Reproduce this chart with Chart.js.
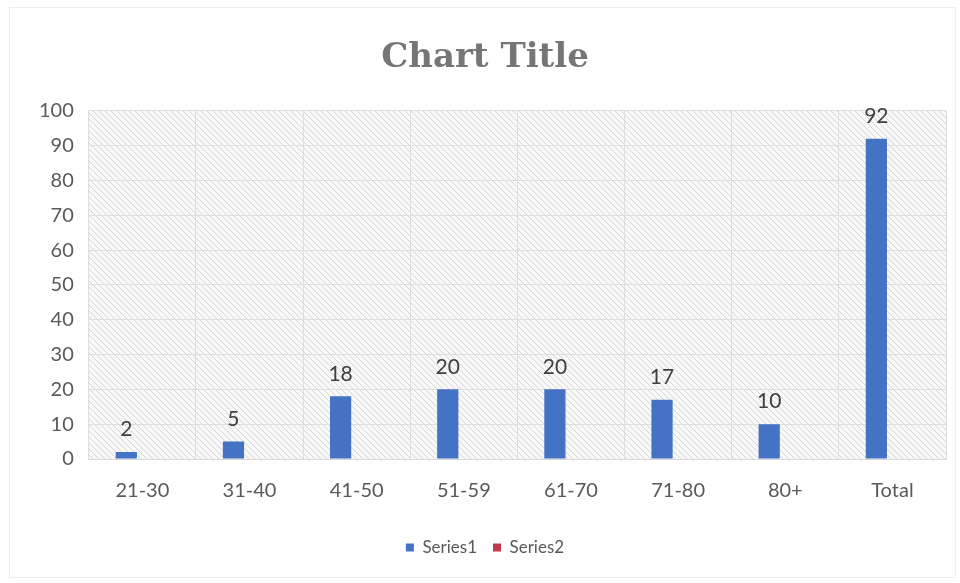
<!DOCTYPE html>
<html lang="en">
<head>
  <meta charset="UTF-8" />
  <title>Chart Title</title>
  <script src="https://cdn.jsdelivr.net/npm/chart.js"></script>
  <style>
    body { margin: 0; background: #fff; }
    .wrap { width: 960px; height: 583px; position: relative; }
  </style>
</head>
<body>
  <div class="wrap">
    <canvas id="chart" width="960" height="583"></canvas>
  </div>

  <script>
    const categories = ['21-30', '31-40', '41-50', '51-59', '61-70', '71-80', '80+', 'Total'];
    const series1 = [2, 5, 18, 20, 20, 17, 10, 92];
    const series2 = [0, 0, 0, 0, 0, 0, 0, 0];
    const yTicks = [0, 10, 20, 30, 40, 50, 60, 70, 80, 90, 100];

    // diagonal hatch used as the plot area fill
    function makeHatch() {
      const c = document.createElement('canvas');
      c.width = 6; c.height = 6;
      const g = c.getContext('2d');
      g.fillStyle = '#f8f8f8';
      g.fillRect(0, 0, 6, 6);
      g.strokeStyle = '#d6d6d6';
      g.lineWidth = 1;
      g.beginPath();
      g.moveTo(0, 0); g.lineTo(6, 6);
      g.moveTo(-3, 3); g.lineTo(3, 9);
      g.moveTo(3, -3); g.lineTo(9, 3);
      g.stroke();
      return g.createPattern(c, 'repeat');
    }

    const plotBg = {
      id: 'plotBg',
      beforeDraw(chart) {
        const { ctx, chartArea: a } = chart;
        ctx.save();
        ctx.strokeStyle = '#eeeeee';
        ctx.strokeRect(9.5, 7.5, 946, 570);
        ctx.fillStyle = makeHatch();
        ctx.fillRect(a.left, a.top, a.right - a.left, a.bottom - a.top);
        ctx.restore();
      }
    };

    const valueLabels = {
      id: 'valueLabels',
      afterDatasetsDraw(chart) {
        const { ctx } = chart;
        const meta = chart.getDatasetMeta(0);
        ctx.save();
        ctx.fillStyle = '#404040';
        ctx.font = '21px Lato, "Open Sans", sans-serif';
        ctx.textAlign = 'center';
        ctx.textBaseline = 'bottom';
        meta.data.forEach((bar, i) => {
          ctx.fillText(series1[i], bar.x, bar.y - 12);
        });
        ctx.restore();
      }
    };

    new Chart(document.getElementById('chart'), {
      type: 'bar',
      data: {
        labels: categories,
        datasets: [
          { label: 'Series1', data: series1, backgroundColor: '#4472c4',
            categoryPercentage: 0.6, barPercentage: 0.66 },
          { label: 'Series2', data: series2, backgroundColor: '#c0394b',
            categoryPercentage: 0.6, barPercentage: 0.66 }
        ]
      },
      options: {
        responsive: false,
        animation: false,
        layout: { padding: { left: 24, right: 14, top: 6, bottom: 17 } },
        plugins: {
          title: {
            display: true,
            text: 'Chart Title',
            color: '#767676',
            font: { family: '"DejaVu Serif", "Liberation Serif", serif', size: 34, weight: 'bold' },
            padding: { top: 32, bottom: 32 }
          },
          legend: {
            position: 'bottom',
            labels: {
              color: '#595959',
              font: { family: 'Lato, "Open Sans", sans-serif', size: 17 },
              boxWidth: 8, boxHeight: 8,
              padding: 16
            }
          },
          tooltip: { enabled: false }
        },
        scales: {
          x: {
            grid: { color: '#dedede', offset: true, drawTicks: false },
            border: { color: '#d9d9d9' },
            ticks: { color: '#595959', padding: 20,
              font: { family: 'Lato, "Open Sans", sans-serif', size: 20 } }
          },
          y: {
            min: 0, max: 100,
            afterBuildTicks(axis) { axis.ticks = yTicks.map(v => ({ value: v })); },
            grid: { color: '#dedede', drawTicks: false },
            border: { display: false },
            ticks: { color: '#595959', padding: 15,
              font: { family: 'Lato, "Open Sans", sans-serif', size: 20 } }
          }
        }
      },
      plugins: [plotBg, valueLabels]
    });
  </script>
</body>
</html>
